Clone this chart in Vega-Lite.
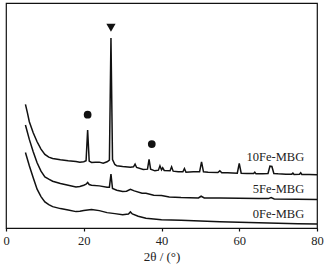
{
  "$schema": "https://vega.github.io/schema/vega-lite/v6.json",
  "autosize": {"type": "none"},
  "width": 311,
  "height": 225,
  "padding": {"left": 6, "top": 3, "right": 12, "bottom": 36},
  "background": "white",
  "config": {
    "view": {"stroke": "#111", "strokeWidth": 1.2},
    "font": "Liberation Serif"
  },
  "datasets": {
    "curves": [
      {"s": "0Fe-MBG", "x": 5, "y": 226}, {"s": "0Fe-MBG", "x": 6, "y": 186}, {"s": "0Fe-MBG", "x": 7, "y": 150}, {"s": "0Fe-MBG", "x": 8, "y": 116}, {"s": "0Fe-MBG", "x": 9, "y": 94}, {"s": "0Fe-MBG", "x": 10, "y": 78}, {"s": "0Fe-MBG", "x": 11, "y": 70}, {"s": "0Fe-MBG", "x": 12, "y": 64}, {"s": "0Fe-MBG", "x": 14, "y": 58}, {"s": "0Fe-MBG", "x": 16, "y": 54}, {"s": "0Fe-MBG", "x": 18, "y": 49}, {"s": "0Fe-MBG", "x": 19, "y": 50}, {"s": "0Fe-MBG", "x": 20, "y": 52}, {"s": "0Fe-MBG", "x": 22, "y": 55}, {"s": "0Fe-MBG", "x": 24, "y": 52}, {"s": "0Fe-MBG", "x": 26, "y": 46}, {"s": "0Fe-MBG", "x": 28, "y": 43}, {"s": "0Fe-MBG", "x": 30, "y": 40}, {"s": "0Fe-MBG", "x": 31.5, "y": 42}, {"s": "0Fe-MBG", "x": 32, "y": 48}, {"s": "0Fe-MBG", "x": 32.5, "y": 42}, {"s": "0Fe-MBG", "x": 34, "y": 35}, {"s": "0Fe-MBG", "x": 36, "y": 29}, {"s": "0Fe-MBG", "x": 38, "y": 27}, {"s": "0Fe-MBG", "x": 40, "y": 25}, {"s": "0Fe-MBG", "x": 45, "y": 23}, {"s": "0Fe-MBG", "x": 50, "y": 21}, {"s": "0Fe-MBG", "x": 55, "y": 19}, {"s": "0Fe-MBG", "x": 60, "y": 17}, {"s": "0Fe-MBG", "x": 65, "y": 16}, {"s": "0Fe-MBG", "x": 70, "y": 14}, {"s": "0Fe-MBG", "x": 75, "y": 13}, {"s": "0Fe-MBG", "x": 80, "y": 12},

      {"s": "5Fe-MBG", "x": 5, "y": 308}, {"s": "5Fe-MBG", "x": 6, "y": 265}, {"s": "5Fe-MBG", "x": 7, "y": 228}, {"s": "5Fe-MBG", "x": 8, "y": 195}, {"s": "5Fe-MBG", "x": 9, "y": 170}, {"s": "5Fe-MBG", "x": 10, "y": 153}, {"s": "5Fe-MBG", "x": 11, "y": 146}, {"s": "5Fe-MBG", "x": 12, "y": 140}, {"s": "5Fe-MBG", "x": 14, "y": 133}, {"s": "5Fe-MBG", "x": 16, "y": 128}, {"s": "5Fe-MBG", "x": 18, "y": 123}, {"s": "5Fe-MBG", "x": 19, "y": 124}, {"s": "5Fe-MBG", "x": 20, "y": 128}, {"s": "5Fe-MBG", "x": 20.6, "y": 131}, {"s": "5Fe-MBG", "x": 21, "y": 136}, {"s": "5Fe-MBG", "x": 21.4, "y": 130}, {"s": "5Fe-MBG", "x": 22, "y": 128}, {"s": "5Fe-MBG", "x": 24, "y": 126}, {"s": "5Fe-MBG", "x": 26, "y": 122}, {"s": "5Fe-MBG", "x": 26.6, "y": 122}, {"s": "5Fe-MBG", "x": 27, "y": 161}, {"s": "5Fe-MBG", "x": 27.4, "y": 118}, {"s": "5Fe-MBG", "x": 28.5, "y": 113}, {"s": "5Fe-MBG", "x": 30, "y": 109}, {"s": "5Fe-MBG", "x": 31, "y": 110}, {"s": "5Fe-MBG", "x": 32, "y": 116}, {"s": "5Fe-MBG", "x": 33, "y": 111}, {"s": "5Fe-MBG", "x": 35, "y": 104}, {"s": "5Fe-MBG", "x": 36, "y": 104}, {"s": "5Fe-MBG", "x": 38, "y": 98}, {"s": "5Fe-MBG", "x": 40, "y": 97}, {"s": "5Fe-MBG", "x": 42, "y": 93}, {"s": "5Fe-MBG", "x": 45, "y": 91}, {"s": "5Fe-MBG", "x": 49.5, "y": 90}, {"s": "5Fe-MBG", "x": 50.2, "y": 95}, {"s": "5Fe-MBG", "x": 51, "y": 90}, {"s": "5Fe-MBG", "x": 55, "y": 90}, {"s": "5Fe-MBG", "x": 60, "y": 89}, {"s": "5Fe-MBG", "x": 65, "y": 88}, {"s": "5Fe-MBG", "x": 67.5, "y": 88}, {"s": "5Fe-MBG", "x": 68.2, "y": 91}, {"s": "5Fe-MBG", "x": 69, "y": 87}, {"s": "5Fe-MBG", "x": 75, "y": 86}, {"s": "5Fe-MBG", "x": 80, "y": 85},

      {"s": "10Fe-MBG", "x": 5, "y": 370}, {"s": "10Fe-MBG", "x": 5.5, "y": 345}, {"s": "10Fe-MBG", "x": 6, "y": 318}, {"s": "10Fe-MBG", "x": 7, "y": 285}, {"s": "10Fe-MBG", "x": 8, "y": 258}, {"s": "10Fe-MBG", "x": 9, "y": 236}, {"s": "10Fe-MBG", "x": 10, "y": 220}, {"s": "10Fe-MBG", "x": 11, "y": 212}, {"s": "10Fe-MBG", "x": 12, "y": 208}, {"s": "10Fe-MBG", "x": 14, "y": 204}, {"s": "10Fe-MBG", "x": 16, "y": 201}, {"s": "10Fe-MBG", "x": 18, "y": 199}, {"s": "10Fe-MBG", "x": 19, "y": 197}, {"s": "10Fe-MBG", "x": 20, "y": 198}, {"s": "10Fe-MBG", "x": 20.6, "y": 201}, {"s": "10Fe-MBG", "x": 21, "y": 293}, {"s": "10Fe-MBG", "x": 21.4, "y": 200}, {"s": "10Fe-MBG", "x": 22, "y": 196}, {"s": "10Fe-MBG", "x": 23, "y": 197}, {"s": "10Fe-MBG", "x": 24, "y": 197}, {"s": "10Fe-MBG", "x": 25, "y": 194}, {"s": "10Fe-MBG", "x": 26, "y": 198}, {"s": "10Fe-MBG", "x": 26.6, "y": 203}, {"s": "10Fe-MBG", "x": 27, "y": 568}, {"s": "10Fe-MBG", "x": 27.4, "y": 205}, {"s": "10Fe-MBG", "x": 28, "y": 190}, {"s": "10Fe-MBG", "x": 28.5, "y": 186}, {"s": "10Fe-MBG", "x": 30, "y": 184}, {"s": "10Fe-MBG", "x": 32, "y": 182}, {"s": "10Fe-MBG", "x": 32.8, "y": 183}, {"s": "10Fe-MBG", "x": 33.2, "y": 191}, {"s": "10Fe-MBG", "x": 33.6, "y": 181}, {"s": "10Fe-MBG", "x": 35.3, "y": 175}, {"s": "10Fe-MBG", "x": 36.4, "y": 176}, {"s": "10Fe-MBG", "x": 36.8, "y": 205}, {"s": "10Fe-MBG", "x": 37.2, "y": 176}, {"s": "10Fe-MBG", "x": 38.3, "y": 171}, {"s": "10Fe-MBG", "x": 39.2, "y": 173}, {"s": "10Fe-MBG", "x": 39.6, "y": 186}, {"s": "10Fe-MBG", "x": 40, "y": 174}, {"s": "10Fe-MBG", "x": 40.3, "y": 180}, {"s": "10Fe-MBG", "x": 40.7, "y": 172}, {"s": "10Fe-MBG", "x": 42.2, "y": 171}, {"s": "10Fe-MBG", "x": 42.6, "y": 183}, {"s": "10Fe-MBG", "x": 43, "y": 170}, {"s": "10Fe-MBG", "x": 44.3, "y": 168}, {"s": "10Fe-MBG", "x": 45.5, "y": 168}, {"s": "10Fe-MBG", "x": 45.9, "y": 178}, {"s": "10Fe-MBG", "x": 46.3, "y": 167}, {"s": "10Fe-MBG", "x": 48.2, "y": 168}, {"s": "10Fe-MBG", "x": 49.8, "y": 168}, {"s": "10Fe-MBG", "x": 50.3, "y": 198}, {"s": "10Fe-MBG", "x": 50.8, "y": 168}, {"s": "10Fe-MBG", "x": 52, "y": 167}, {"s": "10Fe-MBG", "x": 54.5, "y": 166}, {"s": "10Fe-MBG", "x": 55, "y": 171}, {"s": "10Fe-MBG", "x": 55.5, "y": 165}, {"s": "10Fe-MBG", "x": 57, "y": 165}, {"s": "10Fe-MBG", "x": 59.5, "y": 164}, {"s": "10Fe-MBG", "x": 60, "y": 193}, {"s": "10Fe-MBG", "x": 60.5, "y": 164}, {"s": "10Fe-MBG", "x": 62, "y": 163}, {"s": "10Fe-MBG", "x": 63.7, "y": 163}, {"s": "10Fe-MBG", "x": 64, "y": 167}, {"s": "10Fe-MBG", "x": 64.3, "y": 162}, {"s": "10Fe-MBG", "x": 66, "y": 162}, {"s": "10Fe-MBG", "x": 67.4, "y": 163}, {"s": "10Fe-MBG", "x": 67.9, "y": 185}, {"s": "10Fe-MBG", "x": 68.4, "y": 184}, {"s": "10Fe-MBG", "x": 68.9, "y": 163}, {"s": "10Fe-MBG", "x": 70, "y": 162}, {"s": "10Fe-MBG", "x": 72, "y": 161}, {"s": "10Fe-MBG", "x": 73.5, "y": 161}, {"s": "10Fe-MBG", "x": 73.8, "y": 164}, {"s": "10Fe-MBG", "x": 74.1, "y": 160}, {"s": "10Fe-MBG", "x": 75.5, "y": 161}, {"s": "10Fe-MBG", "x": 75.8, "y": 165}, {"s": "10Fe-MBG", "x": 76.1, "y": 160}, {"s": "10Fe-MBG", "x": 78, "y": 160}, {"s": "10Fe-MBG", "x": 80, "y": 159}
    ],
    "markers": [
      {"x": 27, "y": 599, "shape": "triangle-down"},
      {"x": 21, "y": 339, "shape": "circle"},
      {"x": 37.5, "y": 251, "shape": "circle"}
    ],
    "labels": [
      {"x": 76.7, "y": 213, "label": "10Fe-MBG"},
      {"x": 76.7, "y": 116, "label": "5Fe-MBG"},
      {"x": 76.7, "y": 43, "label": "0Fe-MBG"}
    ]
  },
  "layer": [
    {
      "data": {"name": "curves"},
      "mark": {"type": "line", "color": "#111", "strokeWidth": 1.5, "interpolate": "linear"},
      "encoding": {
        "x": {"field": "x", "type": "quantitative",
          "scale": {"domain": [0, 80], "nice": false},
          "axis": {"title": "2θ / (°)", "values": [0,5,10,15,20,25,30,35,40,45,50,55,60,65,70,75,80],
            "labelExpr": "datum.value % 10 === 0 ? datum.label : ''",
            "ticks": true, "tickSize": 3, "tickWidth": 1.2, "tickColor": "#111", "domainColor": "#111", "domainWidth": 1.2, "grid": false,
            "labelFont": "Liberation Serif", "labelFontSize": 12.5, "labelColor": "#222", "labelPadding": 3,
            "titleFont": "Liberation Serif", "titleFontSize": 13, "titleFontWeight": "normal", "titleColor": "#222", "titlePadding": 4,
            "labelFlush": false}},
        "y": {"field": "y", "type": "quantitative",
          "scale": {"domain": [0, 673], "nice": false},
          "axis": null},
        "detail": {"field": "s"}
      }
    },
    {
      "data": {"name": "markers"},
      "transform": [{"filter": "datum.shape === 'circle'"}],
      "mark": {"type": "point", "filled": true, "color": "#111", "size": 60, "opacity": 1, "shape": "circle"},
      "encoding": {
        "x": {"field": "x", "type": "quantitative"},
        "y": {"field": "y", "type": "quantitative"}
      }
    },
    {
      "data": {"name": "markers"},
      "transform": [{"filter": "datum.shape === 'triangle-down'"}],
      "mark": {"type": "point", "filled": true, "color": "#111", "size": 85, "opacity": 1, "shape": "triangle-down"},
      "encoding": {
        "x": {"field": "x", "type": "quantitative"},
        "y": {"field": "y", "type": "quantitative"}
      }
    },
    {
      "data": {"name": "labels"},
      "mark": {"type": "text", "align": "right", "baseline": "middle", "font": "Liberation Serif", "fontSize": 12.5, "color": "#222"},
      "encoding": {
        "x": {"field": "x", "type": "quantitative"},
        "y": {"field": "y", "type": "quantitative"},
        "text": {"field": "label"}
      }
    }
  ]
}
